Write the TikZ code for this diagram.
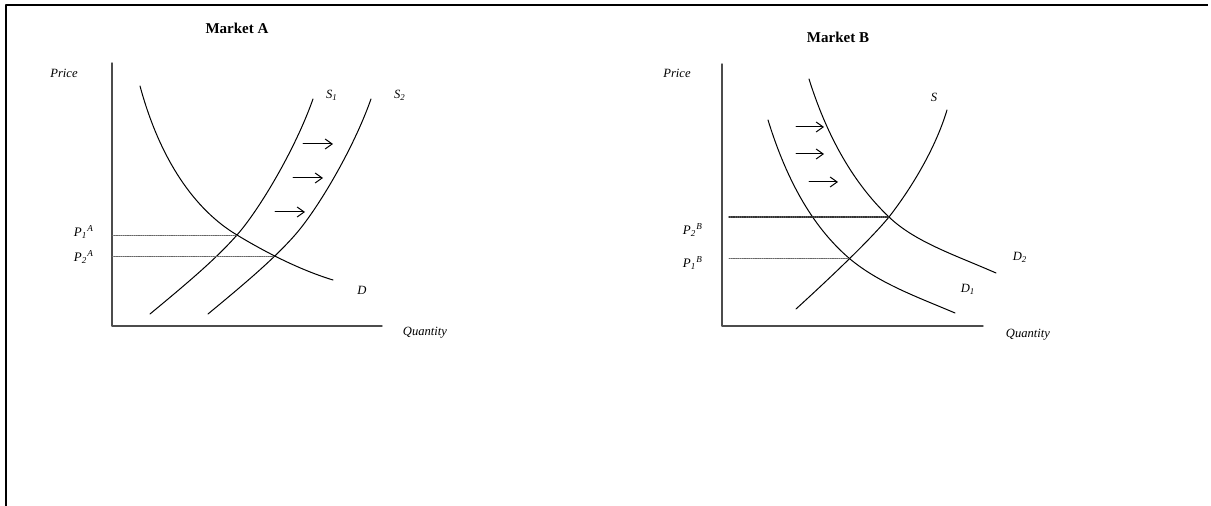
\documentclass[tikz,border=0pt]{standalone}
\usepackage{fontspec}
\setmainfont{Liberation Serif}
\usetikzlibrary{calc,intersections,arrows.meta}
\newcommand{\plab}[2]{\textit{P}\textsubscript{\textit{#1}}\textsuperscript{\textit{#2}}}

\begin{document}
\begin{tikzpicture}[x=0.5pt,y=-0.5pt,line join=round,line cap=round,
	>={Straight Barb[length=3.5pt,width=5pt]},
	curve/.style={line width=0.5pt},
	axis/.style={line width=0.7pt,black!70},
	level/.style={black!60,line width=0.4pt,dash pattern=on 0.6pt off 0.5pt},
	shiftarrow/.style={->,line width=0.5pt},
	lbl/.style={font=\fontsize{6.3}{7}\selectfont\itshape,inner sep=0pt},
	plbl/.style={font=\fontsize{6.5}{8}\selectfont,inner sep=0pt},
	ttl/.style={font=\fontsize{7.5}{9}\selectfont\bfseries,inner sep=0pt}]
	\useasboundingbox (0,0) rectangle (1211,506);
	% Khung
	\draw[line width=1.3pt,line cap=butt] (6,506) -- (6,5) -- (1208,5);
	
	% Thị trường A
	\node[ttl] (tA) at (237,28) {Market A};
	\coordinate (OA) at (112,326);
	\draw[axis] (112,63) -- (OA) -- (382,326);
	\node[lbl] (priceA) at (64,73) {Price};
	\node[lbl] (qtyA) at (425,333) {Quantity};
	\draw[curve,name path=DA] (140,86) .. controls (160,160) and (195,210) .. (237,235)
		.. controls (265,252) and (300,270) .. (333,280);
	\draw[curve,name path=S1A] (150,314) .. controls (185,285) and (215,260) .. (237,235)
		.. controls (259,210) and (295,150) .. (313,99);
	\draw[curve,name path=S2A] (208,314) .. controls (243,285) and (273,260) .. (295,235)
		.. controls (317,210) and (353,150) .. (371,99);
	\path[name intersections={of=DA and S1A,by=EA1}];
	\path[name intersections={of=DA and S2A,by=EA2}];
	\draw[level] (OA |- EA1) -- (EA1);
	\draw[level] (OA |- EA2) -- (EA2);
	\node[lbl] (S1) at (332,95) {S\textsubscript{1}};
	\node[lbl] (S2) at (400,95) {S\textsubscript{2}};
	\node[lbl] (DAl) at (362,290) {D};
	\node[plbl] (P1A) at (84,232) {\plab{1}{A}};
	\node[plbl] (P2A) at (84,257) {\plab{2}{A}};
	\draw[shiftarrow] (303,144) -- (333,144);
	\draw[shiftarrow] (293,178) -- (323,178);
	\draw[shiftarrow] (275,212) -- (305,212);
	
	% Thị trường B
	\node[ttl] (tB) at (838,37) {Market B};
	\coordinate (OB) at (722,326);
	\draw[axis] (722,64) -- (OB) -- (983,326);
	\node[lbl] (priceB) at (677,73) {Price};
	\node[lbl] (qtyB) at (1028,335) {Quantity};
	\draw[curve,name path=SB] (796,309) .. controls (830,278) and (870,240) .. (889,217)
		.. controls (910,190) and (935,150) .. (947,110);
	\draw[curve,name path=D1B] (768,120) .. controls (785,175) and (810,225) .. (850,259)
		.. controls (880,284) and (920,298) .. (955,313);
	\draw[curve,name path=D2B] (809,79) .. controls (825,130) and (850,180) .. (889,217)
		.. controls (915,242) and (955,255) .. (996,273);
	\path[name intersections={of=SB and D1B,by=EB1}];
	\path[name intersections={of=SB and D2B,by=EB2}];
	\draw[level,line width=0.7pt,black!80] ($(OB |- EB2)+(7,0)$) -- (EB2);
	\draw[level] ($(OB |- EB1)+(7,0)$) -- (EB1);
	\node[lbl] (SBl) at (934,97) {S};
	\node[lbl] (D1) at (968,289) {D\textsubscript{1}};
	\node[lbl] (D2) at (1020,257) {D\textsubscript{2}};
	\node[plbl] (P2B) at (693,230) {\plab{2}{B}};
	\node[plbl] (P1B) at (693,263) {\plab{1}{B}};
	\draw[shiftarrow] (796,127) -- (824,127);
	\draw[shiftarrow] (796,154) -- (824,154);
	\draw[shiftarrow] (809,182) -- (838,182);
\end{tikzpicture}
\end{document}
